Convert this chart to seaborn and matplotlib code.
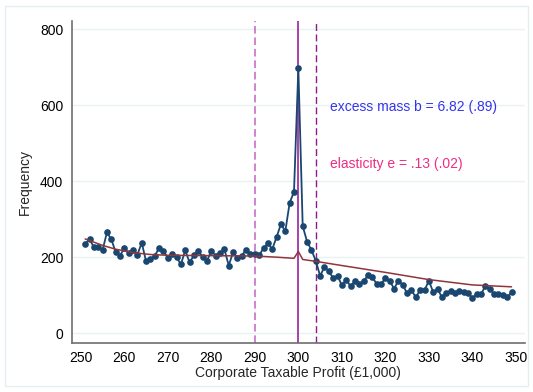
import numpy as np
import pandas as pd
import matplotlib
matplotlib.use('Agg')
from matplotlib import pyplot as plt
from matplotlib.patches import Rectangle
import seaborn as sns

# observed bunching frequencies, one bin per £1,000 from 251 to 349
profit = list(range(251, 350))
frequency = [
    234, 248, 226, 228, 219, 265, 247, 214, 204, 224,
    211, 219, 206, 238, 189, 196, 204, 224, 217,
    197, 209, 200, 181, 218, 186, 205, 217, 200, 190,
    217, 204, 210, 221, 178, 213, 197, 204, 220,
    208, 208, 205, 224, 236, 221, 253, 287, 268, 343, 372,
    697,
    282, 241, 219, 191,
    151, 174, 163, 145, 151, 126, 141, 123, 137, 129,
    137, 152, 147, 130, 129,
    145, 138, 117, 138, 127, 105, 114, 94, 114, 113,
    138, 108, 116, 95, 107, 110, 107, 111, 108, 107,
    92, 103, 103, 124, 117, 103, 103, 101, 94, 108,
]

# counterfactual density
cf_profit = [251, 255, 258, 262, 266, 270, 280, 290, 295, 299, 300, 301,
             304, 310, 320, 330, 340, 349]
cf_freq = [248, 231, 221, 212, 207, 205, 204, 203, 200, 197, 215, 194,
           189, 178, 160, 141, 127, 122]

kink = 300
lower_bound = 290
upper_bound = 304
xticks = list(range(250, 351, 10))
yticks = [0, 200, 400, 600, 800]

df = pd.DataFrame({'profit': profit, 'frequency': frequency})
cf = pd.DataFrame({'profit': cf_profit, 'frequency': cf_freq})

sns.set_style('white')
plt.rcParams['font.family'] = ['Liberation Sans', 'DejaVu Sans']

fig = plt.figure(figsize=(5.33, 3.92), dpi=100)
ax = fig.add_axes([0.1345, 0.1258, 0.985 - 0.1345, 0.947 - 0.1258])

# faint horizontal grid
for y in yticks:
    ax.axhline(y, color='#eaf2f3', lw=1.0, zorder=0)

sns.lineplot(data=df, x='profit', y='frequency', ax=ax, color='#1a476f',
             marker='o', markersize=4.8, markeredgewidth=0, linewidth=1.3,
             zorder=3)
sns.lineplot(data=cf, x='profit', y='frequency', ax=ax, color='#90353b',
             linewidth=1.1, zorder=4)

ax.axvline(lower_bound, color='#c462c4', lw=1.1, ls=(0, (5, 2.5)), zorder=2)
ax.axvline(upper_bound, color='#8b1a8b', lw=1.0, ls=(0, (5, 2.5)), zorder=2)
ax.axvline(kink, color='#8f0f96', lw=1.1, zorder=2)

ax.text(307.3, 594, 'excess mass b = 6.82 (.89)', color='#3434ee',
        fontsize=10, va='center', ha='left')
ax.text(307.3, 446, 'elasticity e = .13 (.02)', color='#ee2d85',
        fontsize=10, va='center', ha='left')

ax.set_xlim(247.9, 352.1)
ax.set_ylim(-25, 822)
ax.set_xticks(xticks)
ax.set_yticks(yticks)
ax.tick_params(axis='both', direction='out', length=4, width=1,
               color='#555555', labelsize=10, labelcolor='black', pad=2)
ax.set_xlabel('Corporate Taxable Profit (£1,000)', fontsize=10, labelpad=1)
ax.set_ylabel('Frequency', fontsize=10, labelpad=6)

for side in ['top', 'right']:
    ax.spines[side].set_visible(False)
for side in ['left', 'bottom']:
    ax.spines[side].set_color('#6e6e6e')
    ax.spines[side].set_linewidth(1.2)

# light frame around the whole graph region
fig.patches.append(Rectangle((5 / 533, 6 / 392), 523 / 533, 380 / 392,
                             transform=fig.transFigure, fill=False,
                             edgecolor='#e4eef0', lw=1.0))

fig.savefig('out.png', dpi=100, facecolor='white')
